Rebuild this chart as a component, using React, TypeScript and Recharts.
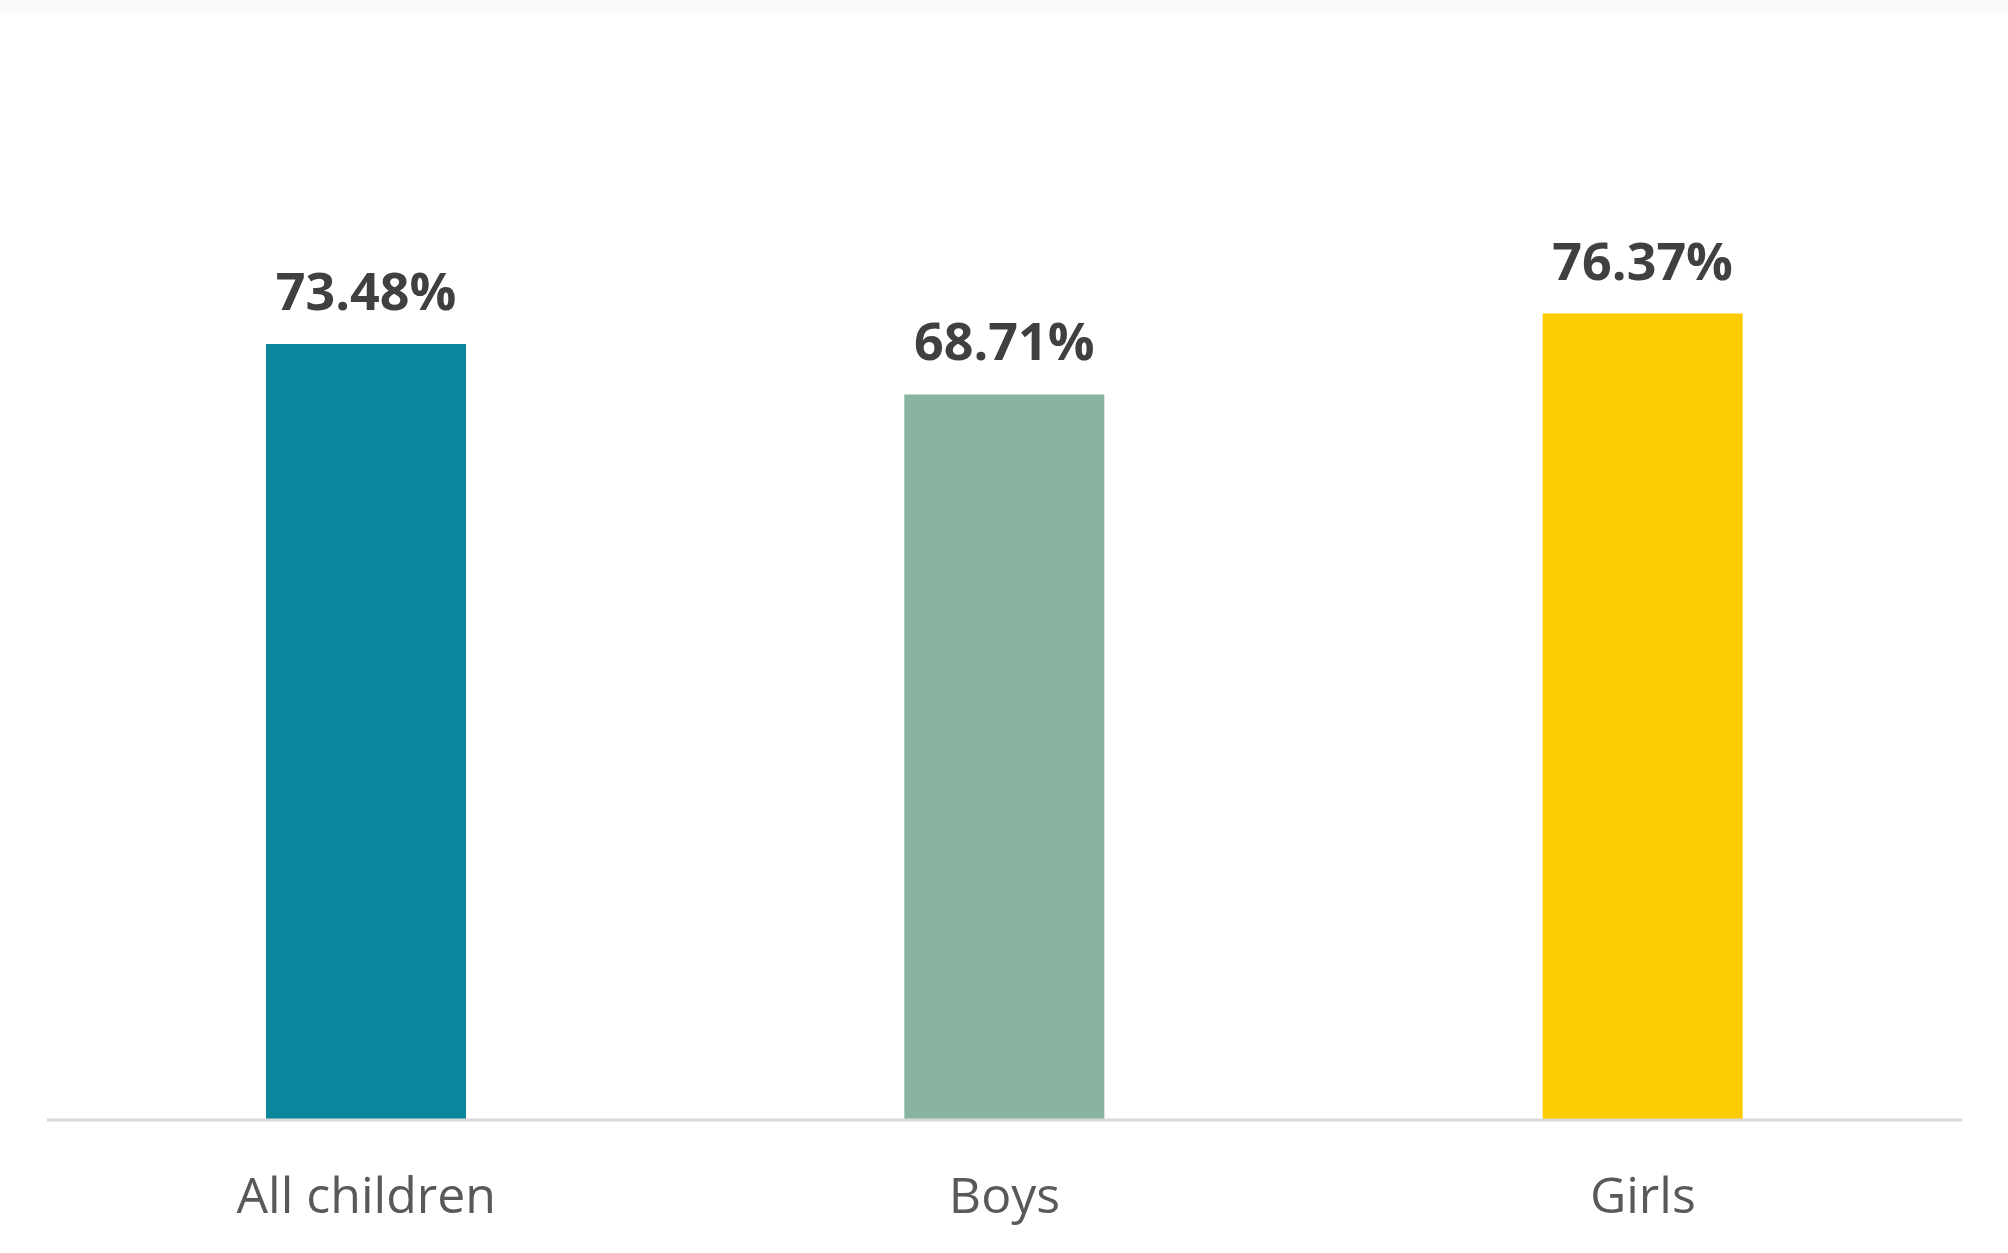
import { BarChart, Bar, XAxis, YAxis, Cell, LabelList } from 'recharts'

const categories = ['All children', 'Boys', 'Girls']
const shares = [73.48, 68.71, 76.37]
const barColors = ['#0a879c', '#88b4a0', '#fccc00']

const data = categories.map((name, i) => ({ name, value: shares[i] }))

const font = '"Open Sans", "Noto Sans", sans-serif'

export default function App() {
  return (
    <div style={{ position: 'absolute', left: 0, top: 0, width: 2008, height: 1253, background: '#fff' }}>
      <div style={{ position: 'absolute', left: 0, top: 0, width: 2008, height: 13, background: '#f9f9f9' }} />
      <BarChart
        width={2008}
        height={1253}
        data={data}
        margin={{ top: 64, right: 46, bottom: 0, left: 47 }}
        style={{ fontFamily: font }}
      >
        <XAxis
          dataKey="name"
          height={133}
          tickLine={false}
          tickSize={0}
          tickMargin={57}
          axisLine={{ stroke: '#d9d9d9', strokeWidth: 3 }}
          tick={{ fill: '#595959', fontSize: 50, fontFamily: font }}
        />
        <YAxis hide domain={[0, 100]} />
        <Bar dataKey="value" barSize={200} isAnimationActive={false}>
          {data.map((d, i) => (
            <Cell key={d.name} fill={barColors[i]} />
          ))}
          <LabelList
            dataKey="value"
            position="top"
            offset={34}
            formatter={(v: number) => `${v.toFixed(2)}%`}
            style={{ fill: '#404040', fontSize: 52, fontWeight: 700, fontFamily: font }}
          />
        </Bar>
      </BarChart>
    </div>
  )
}
